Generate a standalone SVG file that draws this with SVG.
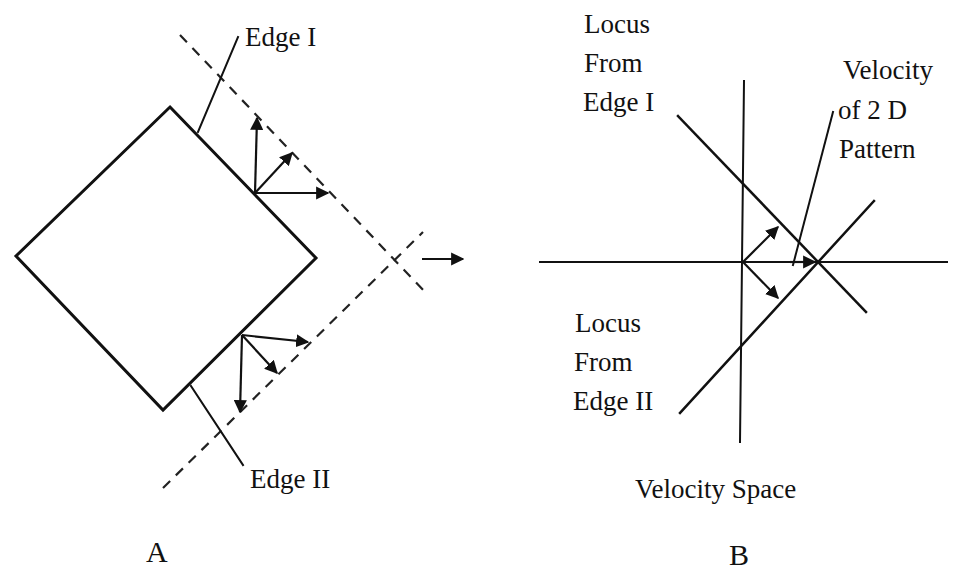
<svg xmlns="http://www.w3.org/2000/svg" width="953" height="579" viewBox="0 0 953 579">
<style>
text{font-family:"Liberation Serif","Times New Roman",serif;font-size:27px;fill:#111}
.big{font-size:30px}
.s{stroke:#111;fill:none;stroke-linecap:square}
.thick{stroke-width:3}
.med{stroke-width:2.5}
.thin{stroke-width:2}
.dash{stroke:#222;stroke-width:2.2;stroke-dasharray:10 8;fill:none}
.arr{stroke:#111;stroke-width:2.2;fill:none;marker-end:url(#ah)}
</style>
<defs>
<marker id="ah" viewBox="0 0 10 10" refX="9" refY="5" markerWidth="6" markerHeight="6" orient="auto" markerUnits="strokeWidth">
<path d="M0,0 L10,5 L0,10 Z" fill="#111"/>
</marker>
</defs>
<rect width="953" height="579" fill="#fff"/>

<g id="panelA">
<g id="square"><path class="s thick" d="M170,107 L316,258 L163,410 L16,256 Z" stroke-linejoin="miter"/></g>
<g id="dashed-lines">
<line class="dash" x1="180" y1="35" x2="428" y2="295"/>
<line class="dash" x1="163" y1="488" x2="423" y2="232"/>
</g>
<g id="edge-I-label">
<line class="s thin" x1="198" y1="132" x2="238" y2="37"/>
<text x="245" y="46">Edge I</text>
</g>
<g id="edge-II-label">
<line class="s thin" x1="191" y1="386" x2="243" y2="465"/>
<text x="250" y="488">Edge II</text>
</g>
<g id="label-A"><text class="big" x="146" y="562">A</text></g>
</g>

<g id="connectors">
<line class="arr" x1="255" y1="193" x2="257" y2="118"/>
<line class="arr" x1="255" y1="193" x2="292" y2="153"/>
<line class="arr" x1="255" y1="193" x2="328" y2="193"/>
<line class="arr" x1="242" y1="335" x2="308" y2="342"/>
<line class="arr" x1="242" y1="335" x2="277" y2="373"/>
<line class="arr" x1="242" y1="335" x2="240" y2="412"/>
<line class="arr" x1="422" y1="259" x2="463" y2="259"/>
<line class="arr" x1="743" y1="262" x2="778" y2="227"/>
<line class="arr" x1="743" y1="262" x2="778" y2="298"/>
<line class="arr" x1="790" y1="262" x2="815" y2="262"/>
</g>

<g id="panelB">
<g id="axes">
<line class="s thin" x1="540" y1="262" x2="947" y2="262"/>
<line class="s thin" x1="744" y1="81" x2="740" y2="442"/>
</g>
<g id="locus-edge-I">
<line class="s med" x1="678" y1="116" x2="866" y2="312"/>
<text x="584" y="33">Locus</text>
<text x="584" y="72">From</text>
<text x="583" y="111">Edge I</text>
</g>
<g id="locus-edge-II">
<line class="s med" x1="874" y1="201" x2="680" y2="413"/>
<text x="575" y="332">Locus</text>
<text x="574" y="371">From</text>
<text x="573" y="410">Edge II</text>
</g>
<g id="velocity-2d">
<line class="s thin" x1="833" y1="112" x2="793" y2="265"/>
<text x="843" y="79">Velocity</text>
<text x="838" y="119">of 2 D</text>
<text x="839" y="158">Pattern</text>
</g>
<g id="velocity-space-label"><text x="635" y="498">Velocity Space</text></g>
<g id="label-B"><text class="big" x="729" y="565">B</text></g>
</g>
</svg>
